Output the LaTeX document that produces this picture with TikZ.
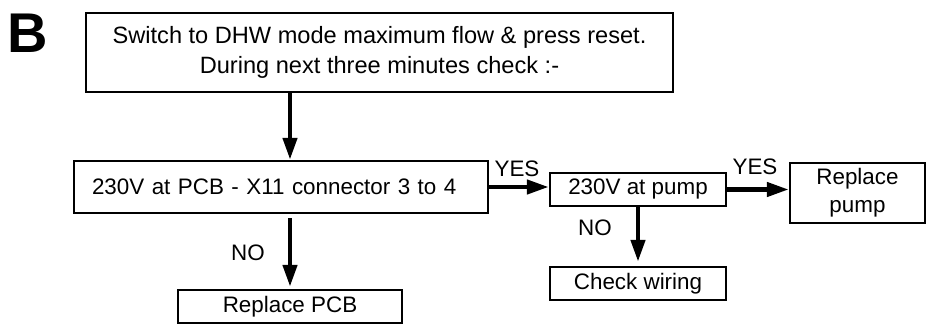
\documentclass[tikz,border=0pt]{standalone}
\usepackage{fontspec}
\setmainfont{Liberation Sans}
\usetikzlibrary{arrows.meta}
\begin{document}
\begin{tikzpicture}[x=1pt,y=1pt,
  box/.style={draw, line width=2.5pt, inner sep=0pt, align=center, font=\fontsize{22.4}{28}\selectfont},
  arr/.style={line width=4.5pt, -{Triangle[length=22pt,width=14pt]}},
  lbl/.style={font=\fontsize{22.4}{27}\selectfont, inner sep=0pt}]
\useasboundingbox (0,0) rectangle (927,325);
\node[font=\bfseries\fontsize{56}{60}\selectfont, inner sep=0pt] (B) at (28,292) {B};
\node[box, minimum width=587pt, minimum height=79pt, font=\fontsize{23.6}{30}\selectfont] (top) at (379.5,272.5)
  {Switch to DHW mode maximum flow \& press reset.\\During next three minutes check :-};
\node[box, minimum width=414pt, minimum height=52pt, text width=378pt, align=left, inner xsep=18pt] (pcbv) at (281,138)
  {230V at PCB - X11 connector 3 to 4};
\node[box, minimum width=224pt, minimum height=33pt] (rpcb) at (290,18.5) {Replace PCB};
\node[box, minimum width=176pt, minimum height=33pt] (pump) at (638,135.5) {230V at pump};
\node[box, minimum width=135pt, minimum height=60pt] (rpump) at (857.5,132) {Replace\\pump};
\node[box, minimum width=176pt, minimum height=33pt] (wire) at (638,41.5) {Check wiring};
\draw[arr] (top.south -| rpcb.north) -- (pcbv.north -| rpcb.north);
\draw[arr, shorten <=4pt, shorten >=2pt] (pcbv.south -| rpcb.north) -- (rpcb.north);
\draw[arr] (pcbv.east) -- (pcbv.east -| pump.west);
\draw[arr] (pump.east) -- (pump.east -| rpump.west);
\draw[arr, shorten >=4pt] (pump.south) -- (wire.north);
\node[lbl] (yes1) at (517,156) {YES};
\node[lbl] (yes2) at (755,158) {YES};
\node[lbl] (no1) at (248,72) {NO};
\node[lbl] (no2) at (595,97) {NO};
\end{tikzpicture}
\end{document}
